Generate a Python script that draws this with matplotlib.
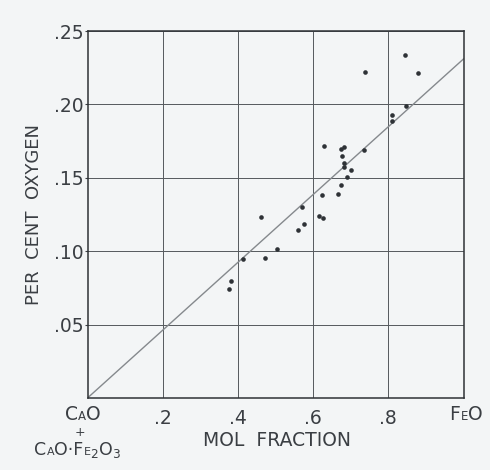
import numpy as np
import matplotlib
matplotlib.use('Agg')
from matplotlib import pyplot as plt
from matplotlib.offsetbox import TextArea, HPacker, AnnotationBbox

#------------------------------------------------------------
# Data
mol_fraction = [0.844, 0.739, 0.879, 0.848, 0.809, 0.810, 0.628, 0.674,
                0.681, 0.678, 0.681, 0.682, 0.701, 0.735, 0.690, 0.674,
                0.623, 0.666, 0.570, 0.615, 0.627, 0.576, 0.561, 0.462,
                0.503, 0.473, 0.413, 0.382, 0.375]
per_cent_oxygen = [0.234, 0.222, 0.2215, 0.199, 0.1926, 0.1889, 0.1714,
                   0.1694, 0.1711, 0.1646, 0.1602, 0.1574, 0.1556, 0.1687,
                   0.1503, 0.1453, 0.1382, 0.1387, 0.1303, 0.1243, 0.1223,
                   0.1182, 0.1144, 0.1236, 0.1016, 0.0955, 0.0947, 0.0796,
                   0.0742]

# straight line through the origin
line_x = [0.0, 1.0]
line_y = [0.0, 0.231]

xticks = [0.2, 0.4, 0.6, 0.8]
xticklabels = ['.2', '.4', '.6', '.8']
yticks = [0.05, 0.10, 0.15, 0.20, 0.25]
yticklabels = ['.05', '.10', '.15', '.20', '.25']

ink = '#3a3e43'
paper = '#f3f5f6'

plt.rcParams['font.family'] = 'DejaVu Sans'

fig = plt.figure(figsize=(4.9, 4.7), dpi=100, facecolor=paper)
ax = fig.add_axes([0.1786, 0.1532, 0.7674, 0.7808], facecolor=paper)

ax.plot(line_x, line_y, color='#85898d', lw=1.0, zorder=2)
ax.scatter(mol_fraction, per_cent_oxygen, s=11, c='#2e3236', lw=0, zorder=3)

ax.set_xlim(0, 1)
ax.set_ylim(0, 0.25)
ax.set_xticks(xticks)
ax.set_xticklabels(xticklabels, fontsize=13.5, color=ink)
ax.set_yticks(yticks)
ax.set_yticklabels(yticklabels, fontsize=13.5, color=ink)
ax.tick_params(axis='x', length=0, pad=8)
ax.tick_params(axis='y', length=2, width=0.8, color=ink, pad=1)
ax.grid(True, color='#55595d', lw=0.7)
ax.set_axisbelow(True)
for sp in ax.spines.values():
    sp.set_color('#2e3236')
    sp.set_linewidth(1.1)

ax.set_ylabel('PER  CENT  OXYGEN', fontsize=13, color=ink, labelpad=8)
fig.text(276.5 / 490, 1 - 440.5 / 470, 'MOL  FRACTION', fontsize=13.5,
         color=ink, ha='center', va='center')


#------------------------------------------------------------
# small-caps chemical labels
def small_caps(pieces, x, y):
    boxes = [TextArea(s, textprops=dict(fontsize=fs, color=ink))
             for s, fs in pieces]
    pack = HPacker(children=boxes, align='baseline', pad=0, sep=0)
    ab = AnnotationBbox(pack, (x / 490, 1 - y / 470),
                        xycoords='figure fraction', frameon=False,
                        box_alignment=(0.5, 0.5), pad=0)
    fig.add_artist(ab)


small_caps([('C', 13.5), ('A', 8.5), ('O', 13.5)], 82.5, 414.5)
small_caps([('F', 13.5), ('E', 8.5), ('O', 13.5)], 466, 414.5)
fig.text(80 / 490, 1 - 433 / 470, '+', fontsize=9, color=ink,
         ha='center', va='center')
small_caps([('C', 12.5), ('A', 8), ('O\u00b7F', 12.5), ('E', 8),
            ('${}_2$O${}_3$', 12.5)], 78, 450)

fig.savefig('out.png', dpi=100, facecolor=paper)
